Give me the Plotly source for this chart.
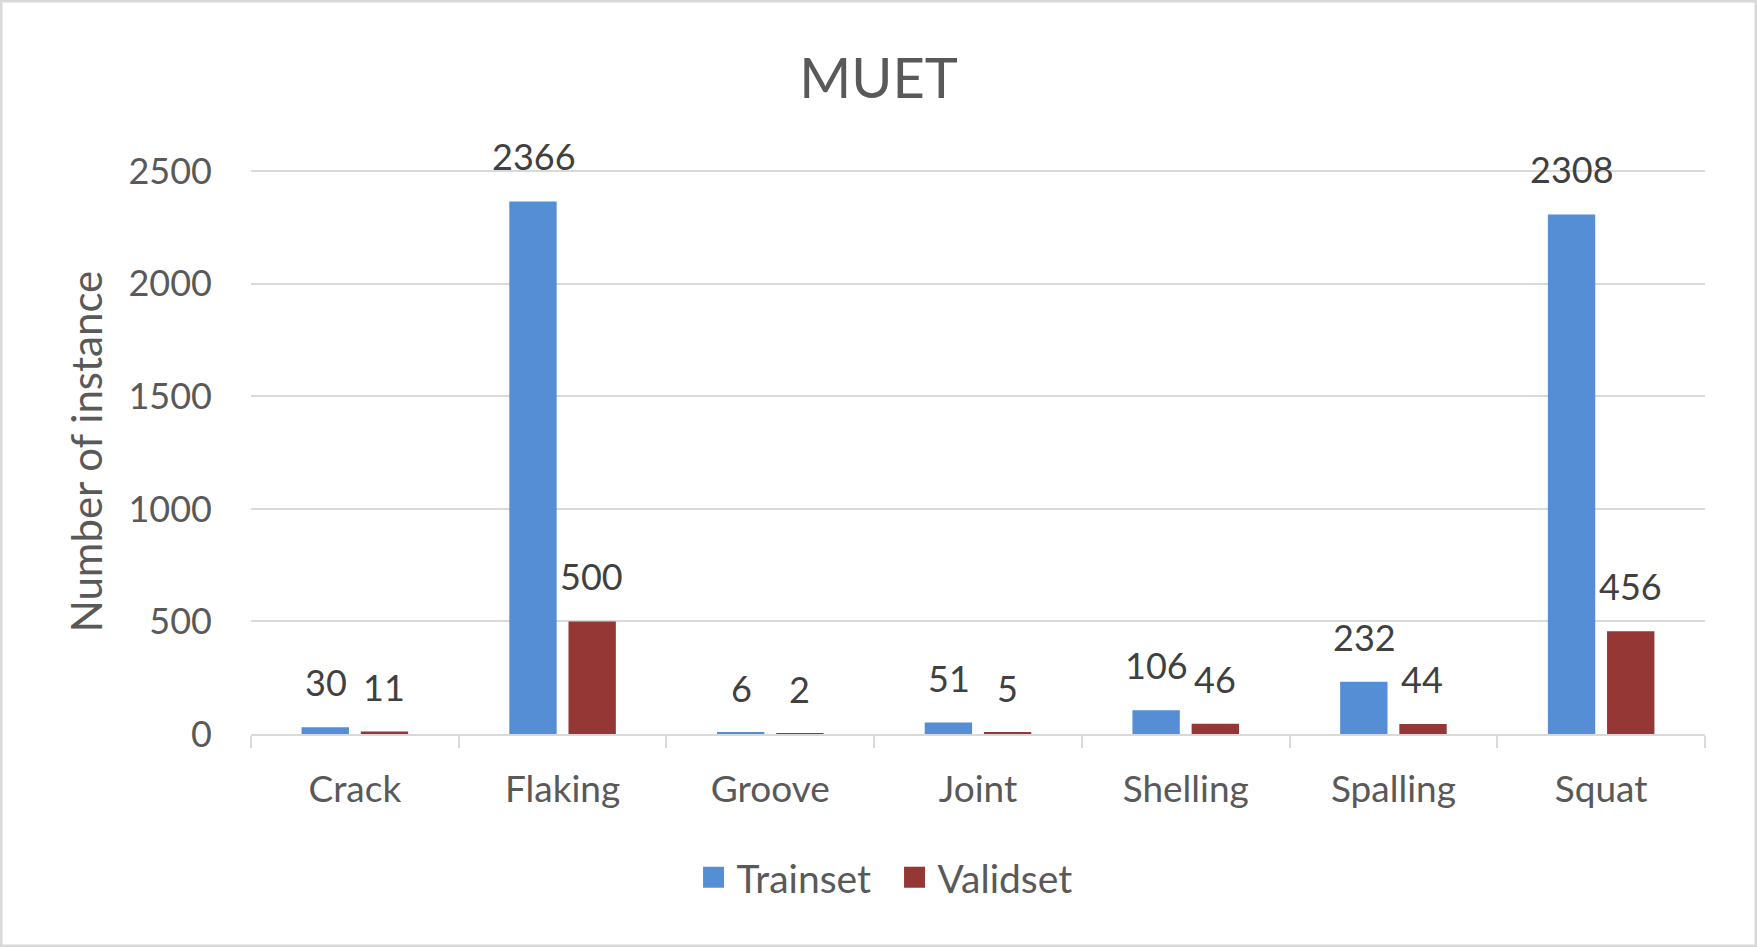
import plotly.graph_objects as go

categories = ["Crack", "Flaking", "Groove", "Joint", "Shelling", "Spalling", "Squat"]
trainset = [30, 2366, 6, 51, 106, 232, 2308]
validset = [11, 500, 2, 5, 46, 44, 456]
y_ticks = [0, 500, 1000, 1500, 2000, 2500]

blue = "#558ED5"
red = "#953735"
grey_text = "#595959"
label_text = "#404040"
font_name = "Lato"

fig = go.Figure()
fig.add_trace(go.Bar(x=categories, y=trainset, name="Trainset",
                     marker=dict(color=blue, line=dict(width=0)), showlegend=False))
fig.add_trace(go.Bar(x=categories, y=validset, name="Validset",
                     marker=dict(color=red, line=dict(width=0)), showlegend=False))

# legend-only traces so the squares come out bigger than the bar icons
for name, col in [("Trainset", blue), ("Validset", red)]:
    fig.add_trace(go.Scatter(x=[None], y=[None], mode="markers", name=name,
                             marker=dict(symbol="square", size=16, color=col,
                                         line=dict(color=col, width=5))))

# data labels sit a fixed distance above each bar
for vals, shift in [(trainset, -29), (validset, 29)]:
    for cat, v in zip(categories, vals):
        fig.add_annotation(x=cat, y=v, text=str(v), showarrow=False,
                           xshift=shift, yshift=45, yanchor="middle",
                           font=dict(family=font_name, size=36, color=label_text))

# outer chart border
pw, ph = 1454, 565
fig.add_shape(type="rect", xref="paper", yref="paper",
              x0=-250/pw, x1=1 + 51/pw, y0=-212/ph, y1=1 + 168/ph,
              line=dict(color="#D9D9D9", width=3), layer="below")

fig.update_layout(
    width=1757, height=947,
    margin=dict(l=251, r=52, t=169, b=213),
    paper_bgcolor="white", plot_bgcolor="white",
    font=dict(family=font_name, size=36, color=grey_text),
    title=dict(text="MUET", x=0.5, xref="container", xanchor="center",
               y=1 - 78/947, yref="container", yanchor="middle",
               font=dict(family=font_name, size=56, color=grey_text)),
    barmode="group", bargap=0.43, bargroupgap=0.2,
    legend=dict(orientation="h", x=0.3023, xanchor="left", xref="paper",
                y=-0.254, yanchor="middle", font=dict(size=39, color=grey_text),
                itemwidth=36, entrywidth=150),
    showlegend=True,
)
fig.update_xaxes(showgrid=False, showline=True, linecolor="#D9D9D9", linewidth=2,
                 ticks="outside", tickson="boundaries", ticklen=12, tickwidth=2,
                 tickcolor="#D9D9D9", ticklabelstandoff=22,
                 tickfont=dict(size=37, color=grey_text))
# top of range a little past 2500 so plotly doesn't clip the 2500 gridline
fig.update_yaxes(range=[0, 2510], tickvals=y_ticks, showgrid=True,
                 gridcolor="#D9D9D9", gridwidth=2, zeroline=False, showline=False,
                 ticklabelstandoff=38, tickfont=dict(size=36, color=grey_text),
                 title=dict(text="Number of instance", standoff=12,
                            font=dict(size=42, color=grey_text)))

# the page body has a default 8px margin; drop it so the chart fills the window
fig.write_html("out.html", config={"displayModeBar": False},
               post_script="document.body.style.margin='0';")
